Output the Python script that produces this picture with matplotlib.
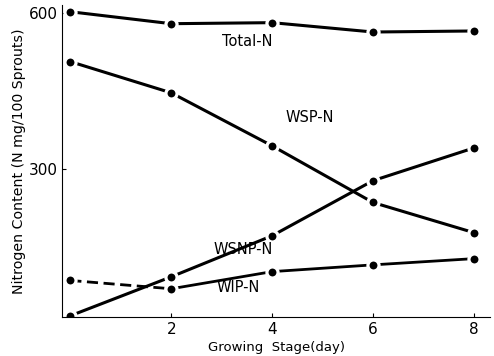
import numpy as np
import matplotlib.pyplot as plt

# Growing stage (day) and nitrogen fractions (N mg/100 sprouts)
days = [0, 2, 4, 6, 8]
total_n = [602, 579, 581, 563, 565]
wsp_n = [506, 446, 344, 235, 177]
wsnp_n = [17, 92, 171, 277, 340]
wip_n = [85, 69, 102, 115, 127]

fig = plt.figure(figsize=(4.94, 3.56), dpi=100)
ax = fig.add_axes([0.126, 0.11, 0.866, 0.876])

# white marker edge leaves a small gap between the line and the dot
dot = dict(marker='o', ms=8, mfc='black', mec='white', mew=2.3)

ax.plot(days, total_n, color='black', lw=2.2, **dot)
ax.plot(days, wsp_n, color='black', lw=2.2, **dot)
ax.plot(days, wsnp_n, color='black', lw=2.2, **dot)
# WIP-N: first segment dashed
ax.plot(days[:2], wip_n[:2], color='black', lw=2.0, ls=(0, (4, 2)))
ax.plot(days[1:], wip_n[1:], color='black', lw=2.0)
ax.plot(days, wip_n, ls='none', **dot)

ax.text(3.0, 544, 'Total-N', fontsize=10.5, va='center')
ax.text(4.26, 398, 'WSP-N', fontsize=10.5, va='center')
ax.text(2.83, 144, 'WSNP-N', fontsize=10.5, va='center')
ax.text(2.89, 71, 'WIP-N', fontsize=10.5, va='center')

ax.set_xlim(-0.16, 8.32)
ax.set_ylim(15, 615)
ax.set_xticks([2, 4, 6, 8])
ax.set_yticks([300, 600])
ax.tick_params(labelsize=11, length=3, direction='in')
ax.set_xlabel('Growing  Stage(day)', fontsize=9.5, labelpad=3)
ax.set_ylabel('Nitrogen Content (N mg/100 Sprouts)', fontsize=10.2, labelpad=2)
for s in ['top', 'right']:
    ax.spines[s].set_visible(False)

plt.savefig('out.png', dpi=100)
plt.close()
